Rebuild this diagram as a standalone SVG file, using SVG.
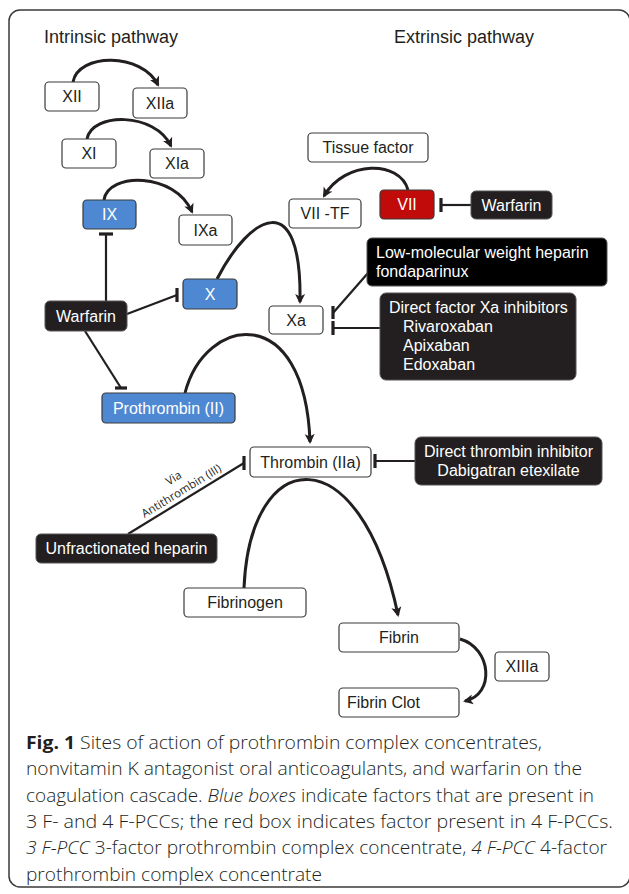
<svg xmlns="http://www.w3.org/2000/svg" width="629" height="894" viewBox="0 0 629 894">
<style>
.frame{fill:#fff;stroke:#3a3a3a;stroke-width:1.5}
.box{fill:#fff;stroke:#3a3a3a;stroke-width:1.2}
.blue{fill:#4f88d2;stroke:#3a3a3a;stroke-width:1.2}
.red{fill:#c10a0a;stroke:#3a3a3a;stroke-width:1.2}
.dark{fill:#231f20;stroke:#555;stroke-width:1}
.black{fill:#000;stroke:#555;stroke-width:1}
.t{font-family:"Liberation Sans",Arial,sans-serif;font-size:16px;fill:#231f20;text-anchor:middle}
.tl{text-anchor:start}
.w{fill:#fff}
.title{font-family:"Liberation Sans",Arial,sans-serif;font-size:18px;fill:#231f20}
.arc{fill:none;stroke:#231f20;stroke-width:3;marker-end:url(#ah)}
.inh{fill:none;stroke:#231f20;stroke-width:2.2}
.bar{fill:none;stroke:#231f20;stroke-width:3.2}
.via{font-family:"Open Sans",sans-serif;font-size:11.5px;fill:#231f20;text-anchor:middle}
.cap{font-family:"Open Sans",sans-serif;font-size:18.3px;font-weight:300;fill:#231f20}
</style>
<defs>
<marker id="ah" markerUnits="userSpaceOnUse" markerWidth="12" markerHeight="12" refX="8" refY="5" orient="auto" overflow="visible">
<path d="M0,0 L10,5 L0,10 L2.5,5 Z" fill="#231f20"/>
</marker>
</defs>
<rect class="frame" x="9" y="10" width="621" height="877" rx="11"/>
<text class="title" x="44" y="43">Intrinsic pathway</text>
<text class="title" x="394" y="43">Extrinsic pathway</text>

<g id="connectors">
<path class="arc" d="M73,82 C78,53 142,52 158,85"/>
<path class="arc" d="M87,139 C92,112 155,112 171,146"/>
<path class="arc" d="M104,200 C108,172 175,172 192,212"/>
<path class="arc" d="M408,190 C400,160 345,160 324,196"/>
<path class="arc" d="M217,279 C250,215 302,185 300,302"/>
<path class="arc" d="M185,393 C205,315 305,300 310,442"/>
<path class="arc" d="M244,588 C250,444 360,434 398,615"/>
<path class="arc" d="M460,639 C492,648 495,695 465,701"/>
<line class="inh" x1="106" y1="301" x2="106" y2="234"/>
<line class="bar" x1="99" y1="234" x2="113" y2="234"/>
<line class="inh" x1="127" y1="314" x2="177" y2="295"/>
<line class="bar" x1="177" y1="288" x2="177" y2="302"/>
<line class="inh" x1="85" y1="331" x2="121" y2="388"/>
<line class="bar" x1="115" y1="388" x2="127" y2="388"/>
<line class="inh" x1="471" y1="205" x2="441" y2="205"/>
<line class="bar" x1="441" y1="198" x2="441" y2="212"/>
<line class="inh" x1="368" y1="273" x2="333" y2="313"/>
<line class="bar" x1="333" y1="306" x2="333" y2="319"/>
<line class="inh" x1="380" y1="328" x2="333" y2="328"/>
<line class="bar" x1="333" y1="321" x2="333" y2="335"/>
<line class="inh" x1="415" y1="461" x2="375" y2="461"/>
<line class="bar" x1="375" y1="454" x2="375" y2="468"/>
<line class="inh" x1="128" y1="534" x2="244" y2="463"/>
<line class="bar" x1="244" y1="456" x2="244" y2="470"/>
<g transform="translate(186,498.5) rotate(-31.5)">
<text class="via" x="0" y="-20">Via</text>
<text class="via" x="0" y="-5">Antithrombin (III)</text>
</g>
</g>

<g id="n-XII"><rect class="box" x="45" y="82" width="54" height="29" rx="4"/><text class="t" x="72" y="102.2">XII</text></g>
<g id="n-XIIa"><rect class="box" x="133" y="88" width="54" height="30" rx="4"/><text class="t" x="160" y="108.7">XIIa</text></g>
<g id="n-XI"><rect class="box" x="62" y="139" width="54" height="29" rx="4"/><text class="t" x="89" y="159.2">XI</text></g>
<g id="n-XIa"><rect class="box" x="150" y="149" width="54" height="29" rx="4"/><text class="t" x="177" y="169.2">XIa</text></g>
<g id="n-IX"><rect class="blue" x="83" y="200" width="53" height="29" rx="4"/><text class="t w" x="109.5" y="220.2">IX</text></g>
<g id="n-IXa"><rect class="box" x="179" y="215" width="53" height="30" rx="4"/><text class="t" x="205.5" y="235.7">IXa</text></g>
<g id="n-TF"><rect class="box" x="308" y="133" width="120" height="29" rx="4"/><text class="t" x="368" y="153.2">Tissue factor</text></g>
<g id="n-VIITF"><rect class="box" x="289" y="199" width="72" height="29" rx="4"/><text class="t" x="325" y="219.2">VII -TF</text></g>
<g id="n-VII"><rect class="red" x="380" y="190" width="54" height="29" rx="4"/><text class="t w" x="407" y="210.2">VII</text></g>
<g id="n-warfarin-r"><rect class="dark" x="471" y="191" width="81" height="28" rx="5"/><text class="t w" x="511.5" y="210.7">Warfarin</text></g>
<g id="n-lmwh"><rect class="black" x="367" y="238" width="240" height="48" rx="5"/><text class="t w tl" x="376" y="258">Low-molecular weight heparin</text><text class="t w tl" x="376" y="277">fondaparinux</text></g>
<g id="n-X"><rect class="blue" x="183" y="279" width="54" height="30" rx="4"/><text class="t w" x="210" y="299.7">X</text></g>
<g id="n-Xa"><rect class="box" x="269" y="306" width="54" height="28" rx="4"/><text class="t" x="296" y="325.7">Xa</text></g>
<g id="n-dxa"><rect class="dark" x="380" y="293" width="196" height="87" rx="6"/><text class="t w tl" x="389" y="313.3">Direct factor Xa inhibitors</text><text class="t w tl" x="403" y="332.3">Rivaroxaban</text><text class="t w tl" x="403" y="351">Apixaban</text><text class="t w tl" x="403" y="370">Edoxaban</text></g>
<g id="n-warfarin-l"><rect class="dark" x="45" y="301" width="82" height="30" rx="5"/><text class="t w" x="86" y="321.7">Warfarin</text></g>
<g id="n-prothrombin"><rect class="blue" x="102" y="393" width="133" height="30" rx="4"/><text class="t w" x="168.5" y="413.7">Prothrombin (II)</text></g>
<g id="n-thrombin"><rect class="box" x="250" y="447" width="121" height="30" rx="4"/><text class="t" x="310.5" y="467.7">Thrombin (IIa)</text></g>
<g id="n-dti"><rect class="dark" x="415" y="437" width="187" height="48" rx="6"/><text class="t w" x="508.5" y="457">Direct thrombin inhibitor</text><text class="t w" x="508.5" y="476">Dabigatran etexilate</text></g>
<g id="n-ufh"><rect class="dark" x="36" y="534" width="181" height="29" rx="5"/><text class="t w" x="126.5" y="554.2">Unfractionated heparin</text></g>
<g id="n-fibrinogen"><rect class="box" x="184" y="588" width="122" height="29" rx="4"/><text class="t" x="245" y="608.2">Fibrinogen</text></g>
<g id="n-fibrin"><rect class="box" x="339" y="623" width="120" height="29" rx="4"/><text class="t" x="399" y="643.2">Fibrin</text></g>
<g id="n-XIIIa"><rect class="box" x="495" y="652" width="54" height="29" rx="4"/><text class="t" x="522" y="672.2">XIIIa</text></g>
<g id="n-clot"><rect class="box" x="339" y="688" width="120" height="29" rx="4"/><text class="t tl" x="347" y="708.2">Fibrin Clot</text></g>

<g id="caption">
<text class="cap" x="26" y="749" textLength="516" lengthAdjust="spacingAndGlyphs"><tspan font-weight="bold">Fig. 1</tspan> Sites of action of prothrombin complex concentrates,</text>
<text class="cap" x="26" y="775.3" textLength="556" lengthAdjust="spacingAndGlyphs">nonvitamin K antagonist oral anticoagulants, and warfarin on the</text>
<text class="cap" x="26" y="801.6" textLength="568" lengthAdjust="spacingAndGlyphs">coagulation cascade. <tspan font-style="italic">Blue boxes</tspan> indicate factors that are present in</text>
<text class="cap" x="26" y="827.9" textLength="587" lengthAdjust="spacingAndGlyphs">3 F- and 4 F-PCCs; the red box indicates factor present in 4 F-PCCs.</text>
<text class="cap" x="26" y="854.2" textLength="581" lengthAdjust="spacingAndGlyphs"><tspan font-style="italic">3 F-PCC</tspan> 3-factor prothrombin complex concentrate, <tspan font-style="italic">4 F-PCC</tspan> 4-factor</text>
<text class="cap" x="26" y="880.5" textLength="296" lengthAdjust="spacingAndGlyphs">prothrombin complex concentrate</text>
</g>
</svg>
